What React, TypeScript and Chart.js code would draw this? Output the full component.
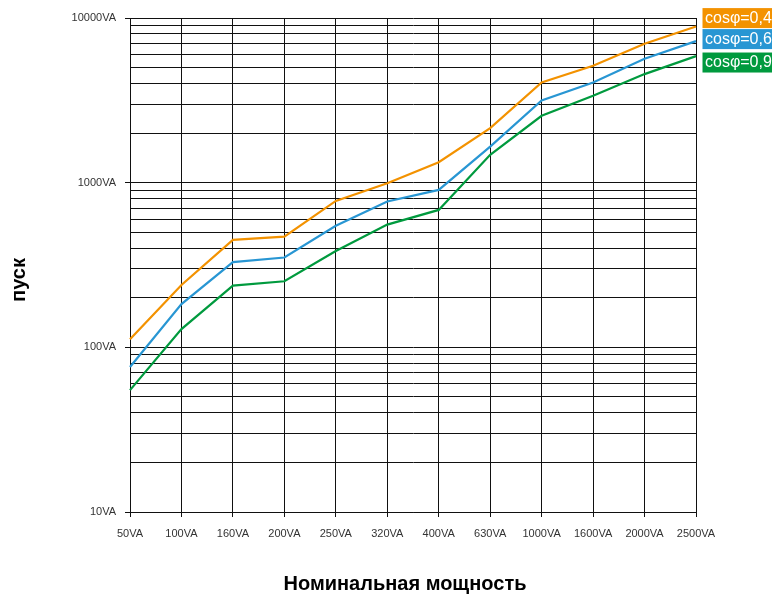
import React, { useEffect, useRef } from "react";
import { Chart, registerables } from "chart.js";

Chart.register(...registerables);

const categories = ["50VA", "100VA", "160VA", "200VA", "250VA", "320VA", "400VA", "630VA", "1000VA", "1600VA", "2000VA", "2500VA"];
const cos04 = [112, 239, 449, 470, 775, 993, 1332, 2143, 4056, 5125, 6970, 8880];
const cos06 = [76, 183, 329, 351, 547, 768, 904, 1657, 3153, 4056, 5652, 7240];
const cos09 = [55, 129, 237, 252, 385, 556, 683, 1475, 2546, 3368, 4563, 5868];
const seriesNames = ["cosφ=0,4", "cosφ=0,6", "cosφ=0,9"];
const seriesColors = ["#F39200", "#2896D3", "#009A3E"];
const majorTicks = [10, 100, 1000, 10000];
const xTitle = "Номинальная мощность";
const yTitle = "пуск";

const FONT = "'Liberation Sans', Arial, Helvetica, sans-serif";

export default function App() {
  const ref = useRef<HTMLCanvasElement | null>(null);

  useEffect(() => {
    document.body.style.margin = "0";
    const canvas = ref.current;
    if (!canvas) return;

    const boxOffsets = [-18.4, -12, -3.6];

    const overlay = {
      id: "overlay",
      afterDraw(chart: any) {
        const ctx = chart.ctx;
        const ys = chart.scales.y;
        ctx.save();
        const sets = [cos04, cos06, cos09];
        sets.forEach((arr, i) => {
          const yEnd = ys.getPixelForValue(arr[arr.length - 1]);
          const top = yEnd + boxOffsets[i];
          ctx.fillStyle = seriesColors[i];
          ctx.fillRect(702.5, top, 80, 20);
          ctx.fillStyle = "#ffffff";
          ctx.font = `16px ${FONT}`;
          ctx.textBaseline = "middle";
          ctx.textAlign = "left";
          ctx.fillText(seriesNames[i], 705, top + 10.5);
        });
        ctx.fillStyle = "#000";
        ctx.font = `bold 20px ${FONT}`;
        ctx.textAlign = "center";
        ctx.textBaseline = "middle";
        ctx.fillText(xTitle, 405, 584);
        ctx.translate(19, 280);
        ctx.rotate(-Math.PI / 2);
        ctx.fillText(yTitle, 0, 0);
        ctx.restore();
      },
    };

    const chart = new Chart(canvas, {
      type: "line",
      data: {
        labels: categories,
        datasets: [cos04, cos06, cos09].map((d, i) => ({
          label: seriesNames[i],
          data: d,
          borderColor: seriesColors[i],
          backgroundColor: seriesColors[i],
          borderWidth: 2.2,
          pointRadius: 0,
          tension: 0,
          fill: false,
        })),
      },
      options: {
        animation: false,
        responsive: false,
        maintainAspectRatio: false,
        layout: { padding: { left: 0, right: 76, top: 18, bottom: 0 } },
        plugins: {
          legend: { display: false },
          tooltip: { enabled: false },
          title: { display: false },
        },
        scales: {
          x: {
            type: "category",
            offset: false,
            grid: {
              color: "#111",
              lineWidth: 1,
              tickLength: 5,
              tickColor: "#111",
              drawTicks: true,
            },
            border: { display: true, color: "#111", width: 1 },
            ticks: {
              color: "#333",
              font: { family: FONT, size: 11 },
              padding: 10,
              maxRotation: 0,
              minRotation: 0,
              autoSkip: false,
            },
            afterFit(scale: any) {
              scale.height = 85;
            },
          },
          y: {
            type: "logarithmic",
            min: 10,
            max: 10000,
            grid: {
              color: "#111",
              lineWidth: 1,
              tickLength: 5,
              tickColor: (ctx: any) =>
                ctx.tick && majorTicks.includes(ctx.tick.value) ? "#111" : "rgba(0,0,0,0)",
            },
            border: { display: true, color: "#111", width: 1 },
            ticks: {
              color: "#333",
              font: { family: FONT, size: 11 },
              padding: 9,
              autoSkip: false,
              callback: (v: any) => (majorTicks.includes(Number(v)) ? `${v}VA` : ""),
            },
            afterBuildTicks(scale: any) {
              const t: any[] = [];
              for (let d = 10; d <= 10000; d *= 10) {
                if (d === 10000) {
                  t.push({ value: d });
                  break;
                }
                for (let m = 1; m <= 9; m++) t.push({ value: d * m });
              }
              scale.ticks = t;
            },
            afterFit(scale: any) {
              scale.width = 130;
            },
          },
        },
      },
      plugins: [overlay],
    } as any);

    return () => chart.destroy();
  }, []);

  return (
    <div style={{ width: 772, height: 597, background: "#fff" }}>
      <canvas ref={ref} width={772} height={597} style={{ display: "block" }} />
    </div>
  );
}
